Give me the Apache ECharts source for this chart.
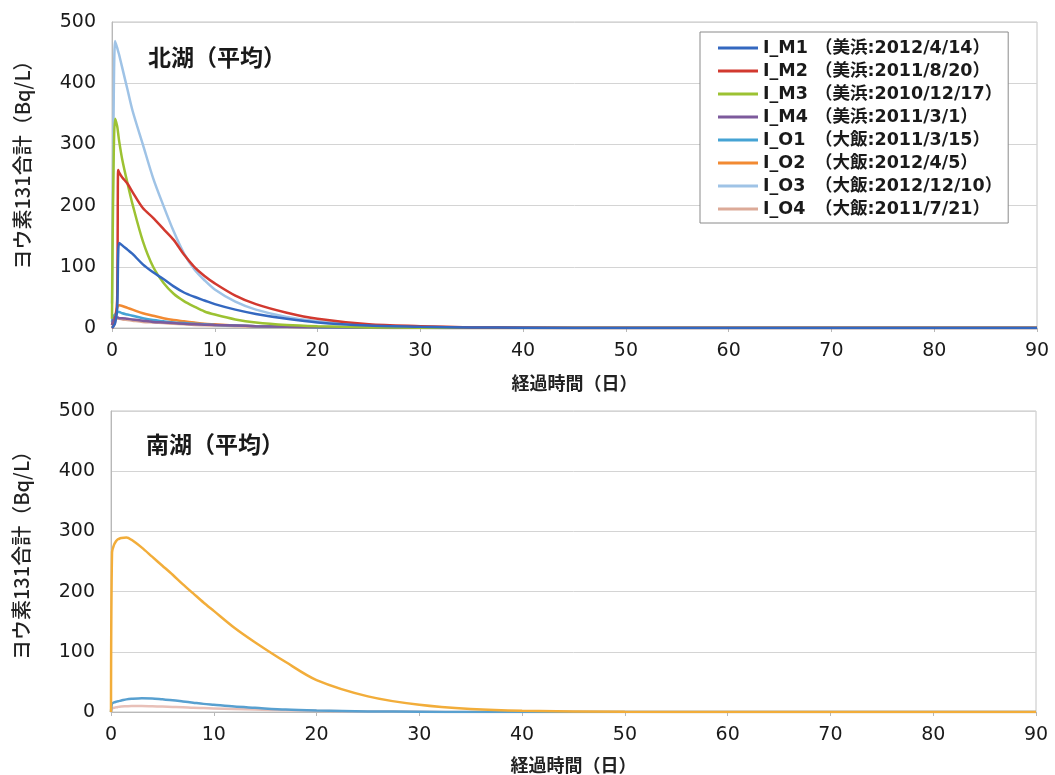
<!DOCTYPE html>
<html>
<head>
<meta charset="utf-8">
<script src="https://cdn.jsdelivr.net/npm/echarts@6/dist/echarts.min.js"></script>
<style>
  html, body { margin: 0; padding: 0; background: #ffffff; }
  #chart { width: 1055px; height: 775px; }
</style>
</head>
<body>
<div id="chart"></div>
<script>
// Elapsed time (days) shared by every curve
const days = [0, 0.1, 0.3, 0.5, 0.6, 0.7, 1, 1.5, 2, 3, 4, 5, 6, 7, 8, 9, 10, 12, 14, 17, 20, 25, 30, 35, 40, 50, 60, 70, 80, 90];

// Series names and release labels
const seriesNames = ['I_M1', 'I_M2', 'I_M3', 'I_M4', 'I_O1', 'I_O2', 'I_O3', 'I_O4'];
const seriesLabels = ['（美浜:2012/4/14）', '（美浜:2011/8/20）', '（美浜:2010/12/17）', '（美浜:2011/3/1）',
                      '（大飯:2011/3/15）', '（大飯:2012/4/5）', '（大飯:2012/12/10）', '（大飯:2011/7/21）'];
const seriesColors = ['#3468c0', '#d2392f', '#9cc232', '#7d5a9c', '#45a3d4', '#f28a32', '#9fc3e6', '#dcaa98'];

// North lake (average), I-131 total, Bq/L
const northM1 = [0, 2, 8, 30, 120, 139, 135, 128, 121, 104, 91, 80, 68, 58, 51, 45, 39, 30, 23, 15, 9, 4, 2, 1, 0.5, 0, 0, 0, 0, 0];
const northM2 = [0, 2, 10, 45, 258, 254, 246, 236, 222, 196, 180, 162, 144, 120, 100, 85, 73, 53, 39, 25, 15, 6, 3, 1, 0.5, 0, 0, 0, 0, 0];
const northM3 = [15, 200, 342, 330, 318, 305, 275, 237, 202, 142, 100, 74, 56, 44, 35, 27, 22, 14, 9, 5, 3, 1, 0.5, 0, 0, 0, 0, 0, 0, 0];
const northM4 = [5, 12, 18, 17, 17, 16, 16, 15, 14, 12, 10, 9, 8, 7, 6, 5.5, 5, 4, 3, 2, 1.5, 1, 0.5, 0, 0, 0, 0, 0, 0, 0];
const northO1 = [10, 18, 22, 25, 26, 26, 24, 22, 20, 16, 13, 11, 9, 8, 7, 6, 5, 4, 3, 2, 1, 0.5, 0, 0, 0, 0, 0, 0, 0, 0];
const northO2 = [5, 10, 20, 33, 36, 37, 36, 33, 30, 24, 20, 16, 13, 11, 9, 7, 6, 4, 3, 2, 1, 0.5, 0, 0, 0, 0, 0, 0, 0, 0];
const northO3 = [40, 250, 469, 458, 452, 446, 425, 390, 355, 300, 245, 200, 158, 122, 96, 78, 63, 43, 30, 18, 11, 5, 2, 1, 0.5, 0, 0, 0, 0, 0];
const northO4 = [5, 10, 14, 15, 15, 15, 14, 13, 12, 10, 9, 8, 7, 6, 5, 4.5, 4, 3, 2.5, 2, 1, 0.5, 0, 0, 0, 0, 0, 0, 0, 0];

// South lake (average), I-131 total, Bq/L
const southO1 = [0, 14, 16, 17, 17.5, 18, 19, 21, 22, 23, 22.5, 21, 19.5, 17.5, 15.5, 13.5, 12, 9, 7, 4, 2.5, 1, 0.5, 0, 0, 0, 0, 0, 0, 0];
const southO2 = [0, 265, 278, 284, 286, 287, 289, 290, 286, 273, 258, 243, 228, 212, 197, 182, 168, 140, 116, 83, 53, 26, 12, 5, 2, 0.5, 0, 0, 0, 0];
const southO4 = [0, 6, 7, 8, 8, 8.5, 9, 9.5, 10, 10, 9.5, 9, 8.5, 8, 7, 6.5, 6, 5, 4, 3, 2, 1, 0.5, 0, 0, 0, 0, 0, 0, 0];

// Axis ticks
const xTicks = { min: 0, max: 90, interval: 10 };
const yTicks = { min: 0, max: 500, interval: 100 };

const northValues = [northM1, northM2, northM3, northM4, northO1, northO2, northO3, northO4];
const southSets = [
  { name: 'I_O4', values: southO4, color: '#e8c0b8' },
  { name: 'I_O1', values: southO1, color: '#58a0d0' },
  { name: 'I_O2', values: southO2, color: '#f2ad3a' }
];

const pairs = vals => days.map((d, i) => [d, vals[i]]);

const FONT_NUM = '"DejaVu Sans", "Noto Sans CJK JP", sans-serif';
const FONT_JP = '"Noto Sans CJK JP", sans-serif';

function xAxisFor(gridIndex, nameGap) {
  return {
    gridIndex, type: 'value', min: xTicks.min, max: xTicks.max, interval: xTicks.interval,
    name: '経過時間（日）', nameLocation: 'middle', nameGap,
    nameTextStyle: { fontFamily: FONT_JP, fontSize: 18, fontWeight: 'bold', color: '#222' },
    axisLine: { lineStyle: { color: '#b8b8b8' } },
    axisTick: { show: true, length: 4, lineStyle: { color: '#b8b8b8' } },
    axisLabel: { fontFamily: FONT_NUM, fontSize: 19, color: '#1a1a1a', margin: 14 },
    splitLine: { show: false }
  };
}
function yAxisFor(gridIndex, shift) {
  return {
    gridIndex, type: 'value', min: yTicks.min, max: yTicks.max, interval: yTicks.interval,
    name: 'ヨウ素131合計（Bq/L）', nameLocation: 'middle', nameRotate: 90, nameGap: 80,
    nameTextStyle: { fontFamily: FONT_JP, fontSize: 20, fontWeight: 500, color: '#222', padding: [0, 0, 0, shift] },
    axisLine: { show: true, lineStyle: { color: '#b8b8b8' } },
    axisTick: { show: false },
    axisLabel: { fontFamily: FONT_NUM, fontSize: 19, color: '#1a1a1a', margin: 16 },
    splitLine: { lineStyle: { color: '#d4d4d4', width: 1 } }
  };
}

const series = [];
seriesNames.forEach((name, i) => {
  series.push({
    name, type: 'line', xAxisIndex: 0, yAxisIndex: 0, data: pairs(northValues[i]),
    showSymbol: false, smooth: 0.3,
    lineStyle: { width: 2.5, color: seriesColors[i] }, itemStyle: { color: seriesColors[i] },
    z: 10 - i
  });
});
southSets.forEach(s => {
  series.push({
    name: s.name, type: 'line', xAxisIndex: 1, yAxisIndex: 1, data: pairs(s.values),
    showSymbol: false, smooth: 0.3,
    lineStyle: { width: 2.5, color: s.color }, itemStyle: { color: s.color }
  });
});

const labelOf = {};
seriesNames.forEach((n, i) => { labelOf[n] = seriesLabels[i]; });

const chart = echarts.init(document.getElementById('chart'), null, { renderer: 'canvas' });
chart.setOption({
  backgroundColor: '#ffffff',
  animation: false,
  grid: [
    { left: 112, right: 18, top: 22, height: 306, show: true, borderColor: '#c4c4c4', borderWidth: 1 },
    { left: 111, right: 19, top: 411, height: 302, show: true, borderColor: '#c4c4c4', borderWidth: 1 }
  ],
  xAxis: [xAxisFor(0, 46), xAxisFor(1, 44)],
  yAxis: [yAxisFor(0, 30), yAxisFor(1, 22)],
  graphic: [
    { type: 'text', left: 148, top: 46, style: { text: '北湖（平均）', font: 'bold 23px "Noto Sans CJK JP"', fill: '#1a1a1a' } },
    { type: 'text', left: 146, top: 433, style: { text: '南湖（平均）', font: 'bold 23px "Noto Sans CJK JP"', fill: '#1a1a1a' } }
  ],
  legend: {
    data: seriesNames,
    orient: 'vertical',
    left: 700, top: 32,
    padding: [6, 6, 4, 18],
    itemGap: 3,
    itemWidth: 40, itemHeight: 3,
    icon: 'rect',
    backgroundColor: '#ffffff',
    borderColor: '#8a8a8a', borderWidth: 1,
    formatter: n => '{n|' + n + '}{d|' + labelOf[n] + '}',
    textStyle: {
      color: '#1a1a1a', lineHeight: 20,
      rich: {
        n: { fontFamily: FONT_NUM, fontSize: 17.5, width: 52, fontWeight: 'bold' },
        d: { fontFamily: FONT_NUM, fontSize: 17.5, fontWeight: 'bold' }
      }
    }
  },
  series
});
</script>
</body>
</html>
